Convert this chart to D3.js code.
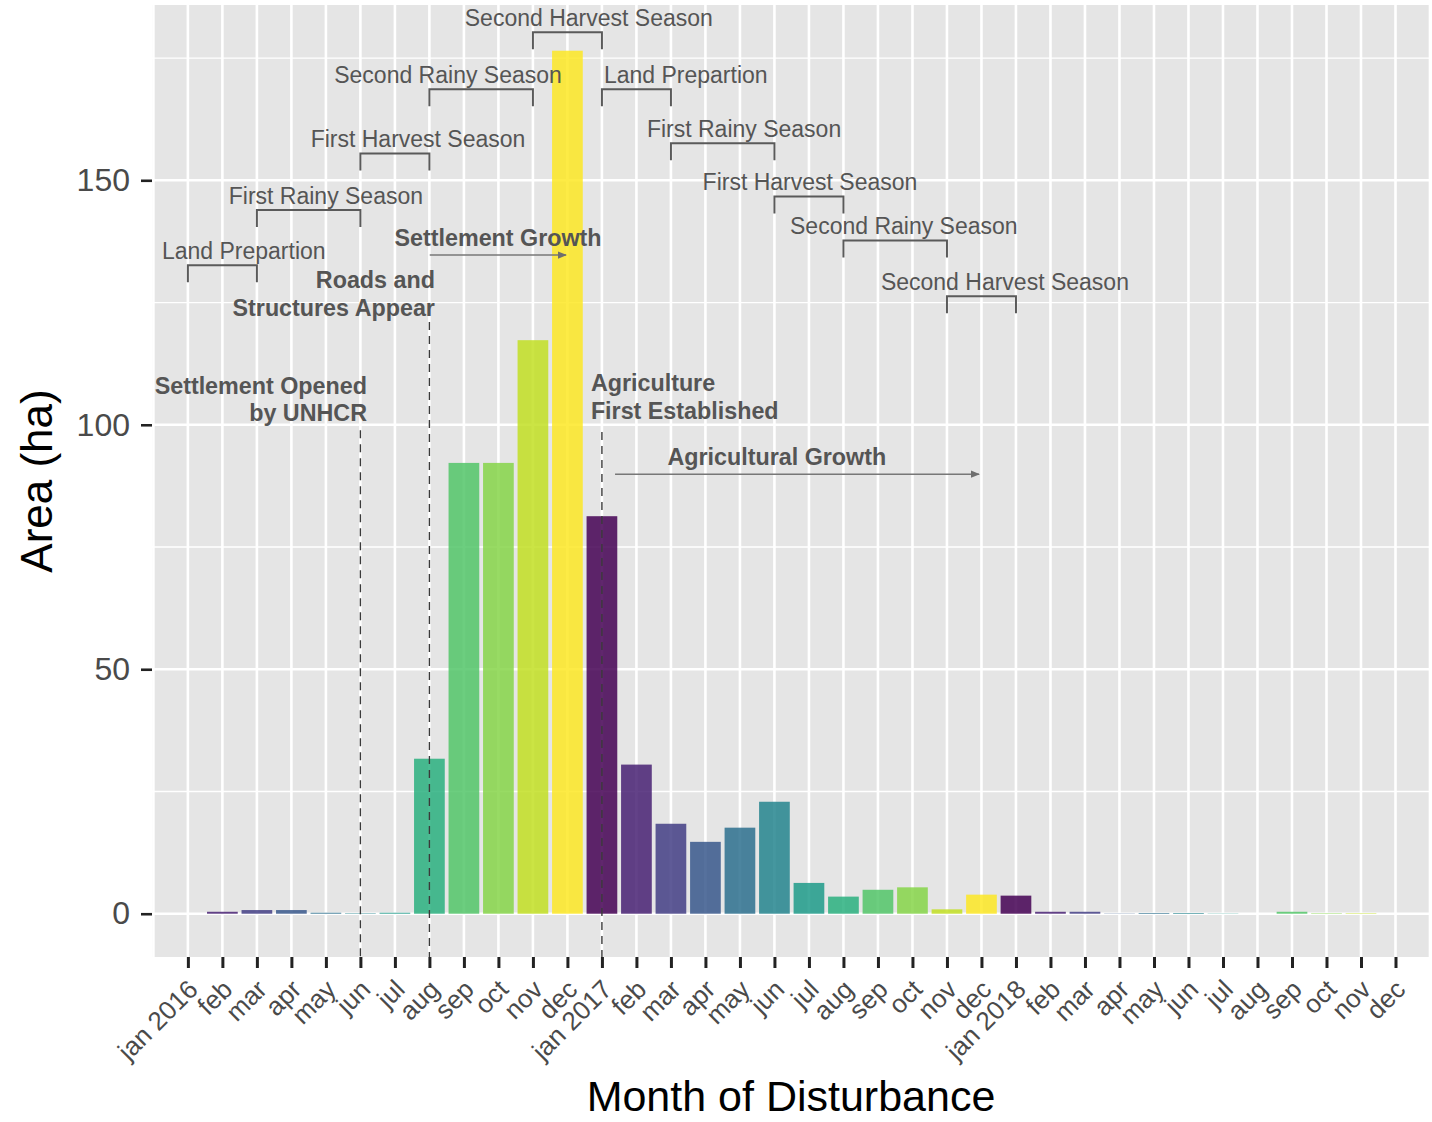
<!DOCTYPE html>
<html>
<head>
<meta charset="utf-8">
<script src="https://cdn.jsdelivr.net/npm/d3@7"></script>
<style>
  body { margin: 0; background: #fff; }
  svg text { font-family: "Liberation Sans", Arial, sans-serif; }
</style>
</head>
<body>
<svg id="chart" width="1432" height="1122"></svg>
<script>
// month labels, jan 2016 .. dec 2018
var monthNames = ["jan", "feb", "mar", "apr", "may", "jun", "jul", "aug", "sep", "oct", "nov", "dec"];
var years = [2016, 2017, 2018];
var months = [];
years.forEach(function (yr) {
  monthNames.forEach(function (m, i) { months.push(i == 0 ? m + " " + yr : m); });
});

// disturbed area (ha) per month
var area2016 = [0, 0.4, 0.75, 0.75, 0.2, 0.1, 0.2, 31.7, 92.2, 92.2, 117.3, 176.5];
var area2017 = [81.3, 30.5, 18.4, 14.7, 17.6, 22.9, 6.3, 3.5, 4.9, 5.4, 0.9, 3.9];
var area2018 = [3.7, 0.4, 0.4, 0.05, 0.15, 0.15, 0.05, 0, 0.4, 0.1, 0.1, 0];

var yTicks = [0, 50, 100, 150];
var yMinor = [25, 75, 125, 175];

// seasons: label, start/end month index, bracket level (ha), label centre (month)
var seasons = [
  { label: "Land Prepartion",       start: 0,  end: 2,  level: 132.6, tx: 1.62 },
  { label: "First Rainy Season",    start: 2,  end: 5,  level: 143.9, tx: 4.0 },
  { label: "First Harvest Season",  start: 5,  end: 7,  level: 155.5, tx: 6.67 },
  { label: "Second Rainy Season",   start: 7,  end: 10, level: 168.6, tx: 7.54 },
  { label: "Second Harvest Season", start: 10, end: 12, level: 180.3, tx: 11.62 },
  { label: "Land Prepartion",       start: 12, end: 14, level: 168.6, tx: 14.43 },
  { label: "First Rainy Season",    start: 14, end: 17, level: 157.6, tx: 16.12 },
  { label: "First Harvest Season",  start: 17, end: 19, level: 146.7, tx: 18.03 },
  { label: "Second Rainy Season",   start: 19, end: 22, level: 137.7, tx: 20.75 },
  { label: "Second Harvest Season", start: 22, end: 24, level: 126.3, tx: 23.68 }
];

// events: month of dashed line and where it starts (ha)
var events = [
  { month: 5,  top: 98.9 },
  { month: 7,  top: 121.0 },
  { month: 12, top: 98.5 }
];

// bold notes: lines, x (month), first baseline (ha), anchor
var notes = [
  { lines: ["Settlement Growth"], x: 8.99, y: 136.5, anchor: "middle" },
  { lines: ["Roads and", "Structures Appear"], x: 7.16, y: 127.9, anchor: "end" },
  { lines: ["Settlement Opened", "by UNHCR"], x: 5.19, y: 106.3, anchor: "end" },
  { lines: ["Agriculture", "First Established"], x: 11.68, y: 106.9, anchor: "start" },
  { lines: ["Agricultural Growth"], x: 17.07, y: 91.8, anchor: "middle" }
];

var arrows = [
  { from: 7.01, to: 10.96, y: 134.7 },
  { from: 12.38, to: 22.93, y: 89.9 }
];

var values = area2016.concat(area2017, area2018);
var data = values.map(function (v, i) { return { i: i, month: i % 12, value: v }; });

var panel = { left: 152, right: 1430, top: 5, bottom: 957 };

var x = d3.scaleLinear().domain([-1.04, 36]).range([panel.left, panel.right]);
var y = d3.scaleLinear().domain([-8.85, 185.85]).range([panel.bottom, panel.top]);
var colour = function (m) { return d3.interpolateViridis(m / 11); };

var svg = d3.select("#chart");

svg.append("defs").append("clipPath").attr("id", "clip")
  .append("rect")
  .attr("x", panel.left).attr("y", panel.top)
  .attr("width", panel.right - panel.left).attr("height", panel.bottom - panel.top);

var marker = svg.select("defs").append("marker")
  .attr("id", "arrow")
  .attr("viewBox", "0 0 10 10")
  .attr("refX", 9).attr("refY", 5)
  .attr("markerWidth", 9).attr("markerHeight", 9)
  .attr("markerUnits", "userSpaceOnUse")
  .attr("orient", "auto");
marker.append("path").attr("d", "M0,1 L10,5 L0,9 Z").attr("fill", "#6e6e6e");

// panel background
svg.append("rect")
  .attr("x", panel.left).attr("y", panel.top)
  .attr("width", panel.right - panel.left).attr("height", panel.bottom - panel.top)
  .attr("fill", "#e5e5e5");

var plot = svg.append("g").attr("clip-path", "url(#clip)");

// grid lines
plot.selectAll(".hminor").data(yMinor).enter().append("line")
  .attr("x1", panel.left).attr("x2", panel.right)
  .attr("y1", function (d) { return y(d); }).attr("y2", function (d) { return y(d); })
  .attr("stroke", "#fff").attr("stroke-width", 1.3);

plot.selectAll(".hmajor").data(yTicks).enter().append("line")
  .attr("x1", panel.left).attr("x2", panel.right)
  .attr("y1", function (d) { return y(d); }).attr("y2", function (d) { return y(d); })
  .attr("stroke", "#fff").attr("stroke-width", 2.6);

plot.selectAll(".vgrid").data(d3.range(-1, 37)).enter().append("line")
  .attr("y1", panel.top).attr("y2", panel.bottom)
  .attr("x1", function (d) { return x(d); }).attr("x2", function (d) { return x(d); })
  .attr("stroke", "#fff").attr("stroke-width", 2.6);

// bars
var bw = x(0.89) - x(0);
plot.selectAll(".bar").data(data.filter(function (d) { return d.value > 0; })).enter().append("rect")
  .attr("x", function (d) { return x(d.i) - bw / 2; })
  .attr("width", bw)
  .attr("y", function (d) { return y(d.value); })
  .attr("height", function (d) { return y(0) - y(d.value); })
  .attr("fill", function (d) { return colour(d.month); })
  .attr("fill-opacity", 0.85);

// dashed event lines
plot.selectAll(".event").data(events).enter().append("line")
  .attr("x1", function (d) { return x(d.month); }).attr("x2", function (d) { return x(d.month); })
  .attr("y1", function (d) { return y(d.top); }).attr("y2", panel.bottom)
  .attr("stroke", "#3a3a3a").attr("stroke-width", 1.4)
  .attr("stroke-dasharray", "8,6");

// season brackets
var drop = 17;
plot.selectAll(".bracket").data(seasons).enter().append("path")
  .attr("d", function (d) {
    var y0 = y(d.level);
    return "M" + x(d.start) + "," + (y0 + drop) + "V" + y0 + "H" + x(d.end) + "V" + (y0 + drop);
  })
  .attr("fill", "none").attr("stroke", "#5a5a5a").attr("stroke-width", 2);

plot.selectAll(".season").data(seasons).enter().append("text")
  .attr("x", function (d) { return x(d.tx); })
  .attr("y", function (d) { return y(d.level) - 6; })
  .attr("text-anchor", "middle")
  .attr("font-size", 23)
  .attr("fill", "#555")
  .text(function (d) { return d.label; });

// notes
notes.forEach(function (n) {
  var t = plot.append("text")
    .attr("x", x(n.x)).attr("y", y(n.y))
    .attr("text-anchor", n.anchor)
    .attr("font-size", 23.3).attr("font-weight", "bold")
    .attr("fill", "#555");
  n.lines.forEach(function (l, k) {
    t.append("tspan").attr("x", x(n.x)).attr("dy", k == 0 ? 0 : 27.5).text(l);
  });
});

plot.selectAll(".arrow").data(arrows).enter().append("line")
  .attr("x1", function (d) { return x(d.from); }).attr("x2", function (d) { return x(d.to); })
  .attr("y1", function (d) { return y(d.y); }).attr("y2", function (d) { return y(d.y); })
  .attr("stroke", "#777").attr("stroke-width", 1.5)
  .attr("marker-end", "url(#arrow)");

// y axis
var yAxis = svg.append("g")
  .attr("transform", "translate(" + panel.left + ",0)")
  .call(d3.axisLeft(y).tickValues(yTicks).tickSize(11).tickPadding(11));
yAxis.select(".domain").remove();
yAxis.selectAll(".tick line").attr("stroke", "#222").attr("stroke-width", 2.6);
yAxis.selectAll(".tick text")
  .attr("font-size", 32).attr("fill", "#4a4a4a")
  .attr("font-family", "Liberation Sans, Arial, sans-serif");

// x axis
var xAxis = svg.append("g")
  .attr("transform", "translate(0," + panel.bottom + ")")
  .call(d3.axisBottom(x).tickValues(d3.range(months.length))
    .tickFormat(function (i) { return months[i]; }).tickSize(11));
xAxis.select(".domain").remove();
xAxis.selectAll(".tick line").attr("stroke", "#222").attr("stroke-width", 3);
xAxis.selectAll(".tick text")
  .attr("x", 0).attr("y", 0).attr("dy", 0)
  .attr("transform", "translate(11,34) rotate(-45)")
  .attr("text-anchor", "end")
  .attr("font-size", 26).attr("fill", "#4a4a4a")
  .attr("font-family", "Liberation Sans, Arial, sans-serif");

// axis titles
svg.append("text")
  .attr("x", (panel.left + panel.right) / 2).attr("y", 1111)
  .attr("text-anchor", "middle")
  .attr("font-size", 43).attr("fill", "#000")
  .text("Month of Disturbance");

svg.append("text")
  .attr("transform", "translate(52," + ((panel.top + panel.bottom) / 2) + ") rotate(-90)")
  .attr("text-anchor", "middle")
  .attr("font-size", 44).attr("fill", "#000")
  .text("Area (ha)");
</script>
</body>
</html>
